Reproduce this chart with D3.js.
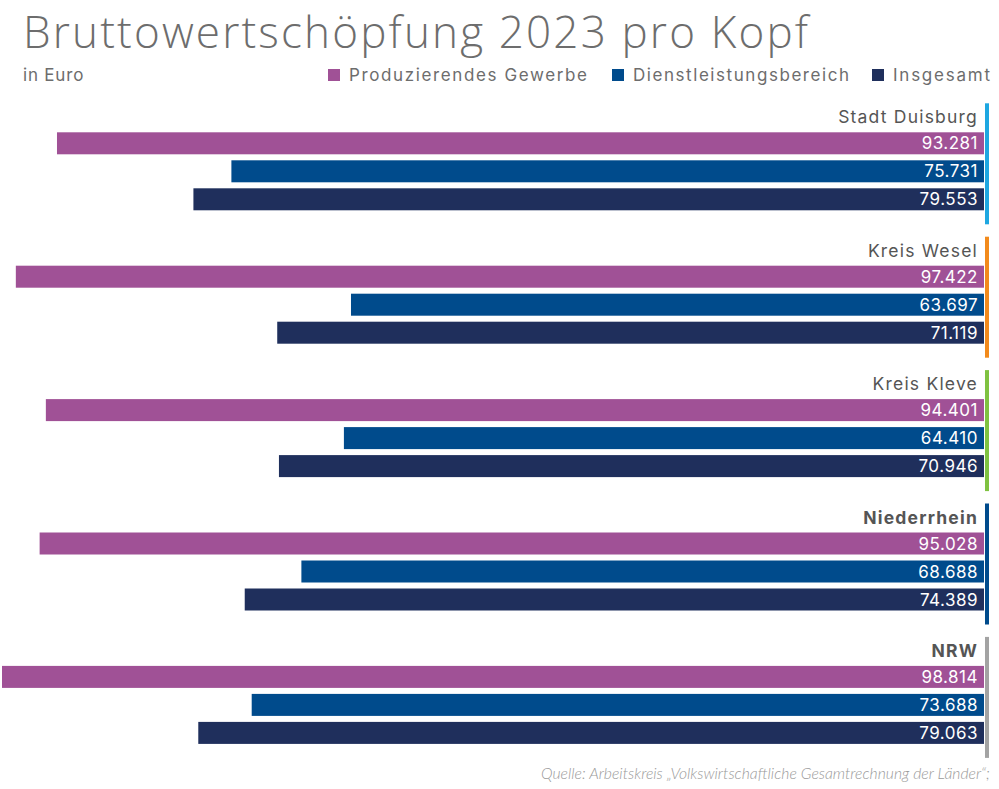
<!DOCTYPE html>
<html>
<head>
<meta charset="utf-8">
<script src="https://cdn.jsdelivr.net/npm/d3@7"></script>
<style>
  html, body { margin: 0; padding: 0; background: #fff; }
  svg { display: block; }
</style>
</head>
<body>
<div id="chart"></div>
<script>
const regions = ["Stadt Duisburg", "Kreis Wesel", "Kreis Kleve", "Niederrhein", "NRW"];
const series = ["Produzierendes Gewerbe", "Dienstleistungsbereich", "Insgesamt"];
const produzierend = [93281, 97422, 94401, 95028, 98814];
const dienstleistung = [75731, 63697, 64410, 68688, 73688];
const insgesamt = [79553, 71119, 70946, 74389, 79063];
const boldRegions = ["Niederrhein", "NRW"];

const seriesColors = ["#a05196", "#004b8c", "#1f2f5c"];
const regionColors = ["#1ea7e1", "#f28a1c", "#7fc241", "#004b8c", "#a3a3a3"];

drawChart();

function drawChart() {
  const width = 999;
  const height = 789;
  const right = 984;

  const svg = d3.select("#chart").append("svg")
    .attr("width", width)
    .attr("height", height);

  const de = d3.formatLocale({ decimal: ",", thousands: ".", grouping: [3], currency: ["", " €"] });
  const fmt = de.format(",");

  const values = [produzierend, dienstleistung, insgesamt];
  const data = regions.map((r, i) => ({
    region: r,
    bars: series.map((s, j) => ({ series: s, value: values[j][i], color: seriesColors[j] }))
  }));

  // title
  svg.append("text")
    .attr("x", 23)
    .attr("y", 48)
    .attr("textLength", 785)
    .attr("lengthAdjust", "spacing")
    .style("font-family", "'Open Sans', Lato, sans-serif")
    .style("font-weight", 300)
    .style("font-size", "44px")
    .attr("fill", "#6d6d6d")
    .text("Bruttowertschöpfung 2023 pro Kopf");

  svg.append("text")
    .attr("x", 23)
    .attr("y", 81)
    .style("font-family", "Inter, sans-serif")
    .style("font-size", "17px")
    .style("letter-spacing", "0.8px")
    .attr("fill", "#6d6d6d")
    .text("in Euro");

  // legend
  const legendX = [328, 612, 872];
  const legendW = [238, 216, 97];
  const legend = svg.append("g");
  series.forEach((s, i) => {
    legend.append("rect")
      .attr("x", legendX[i])
      .attr("y", 69)
      .attr("width", 12)
      .attr("height", 12)
      .attr("fill", seriesColors[i]);
    legend.append("text")
      .attr("x", legendX[i] + 21)
      .attr("y", 81)
      .attr("textLength", legendW[i])
      .attr("lengthAdjust", "spacing")
      .style("font-family", "Inter, sans-serif")
      .style("font-size", "17px")
      .attr("fill", "#6d6d6d")
      .text(s);
  });

  const x = d3.scaleLinear()
    .domain([0, d3.max(produzierend)])
    .range([0, 982]);

  const yGroup = d3.scaleBand()
    .domain(regions)
    .range([132.3, 132.3 + 5 * 133.4]);

  const ySeries = d3.scaleBand()
    .domain(series)
    .range([0, 78])
    .paddingInner(6 / 28);

  const groups = svg.selectAll(".group")
    .data(data)
    .join("g")
    .attr("class", "group")
    .attr("transform", (d) => `translate(0,${yGroup(d.region)})`);

  // coloured side line
  groups.append("rect")
    .attr("x", right + 1)
    .attr("y", -29)
    .attr("width", 4)
    .attr("height", 78 + 14 + 29)
    .attr("fill", (d, i) => regionColors[i]);

  groups.append("text")
    .attr("x", 978)
    .attr("y", -9)
    .attr("text-anchor", "end")
    .style("font-family", "Inter, sans-serif")
    .style("font-size", "17.5px")
    .style("letter-spacing", "1.2px")
    .style("font-weight", (d) => boldRegions.includes(d.region) ? 700 : 400)
    .attr("fill", "#555")
    .text((d) => d.region);

  groups.selectAll(".bar")
    .data((d) => d.bars)
    .join("rect")
    .attr("class", "bar")
    .attr("x", (d) => right - x(d.value))
    .attr("y", (d) => ySeries(d.series))
    .attr("width", (d) => x(d.value))
    .attr("height", ySeries.bandwidth())
    .attr("fill", (d) => d.color);

  groups.selectAll(".val")
    .data((d) => d.bars)
    .join("text")
    .attr("class", "val")
    .attr("x", 978)
    .attr("y", (d) => ySeries(d.series) + ySeries.bandwidth() / 2)
    .attr("dy", "0.36em")
    .attr("text-anchor", "end")
    .style("font-family", "Inter, sans-serif")
    .style("font-size", "17px")
    .style("letter-spacing", "0.5px")
    .attr("fill", "#fff")
    .text((d) => fmt(d.value));

  // source
  const src = svg.append("text")
    .attr("x", 990)
    .attr("y", 779)
    .attr("text-anchor", "end")
    .style("font-family", "Lato, sans-serif")
    .style("font-style", "italic")
    .style("font-weight", 300)
    .style("font-size", "13px")
    .attr("fill", "#9a9a9a")
    .text("Quelle: Arbeitskreis „Volkswirtschaftliche Gesamtrechnung der Länder“;");
  fitWidth(src, 449);
}

function fitWidth(sel, target) {
  const w = sel.node().getComputedTextLength();
  const size = parseFloat(sel.style("font-size"));
  if (w > 0) sel.style("font-size", (size * target / w).toFixed(2) + "px");
}
</script>
</body>
</html>
